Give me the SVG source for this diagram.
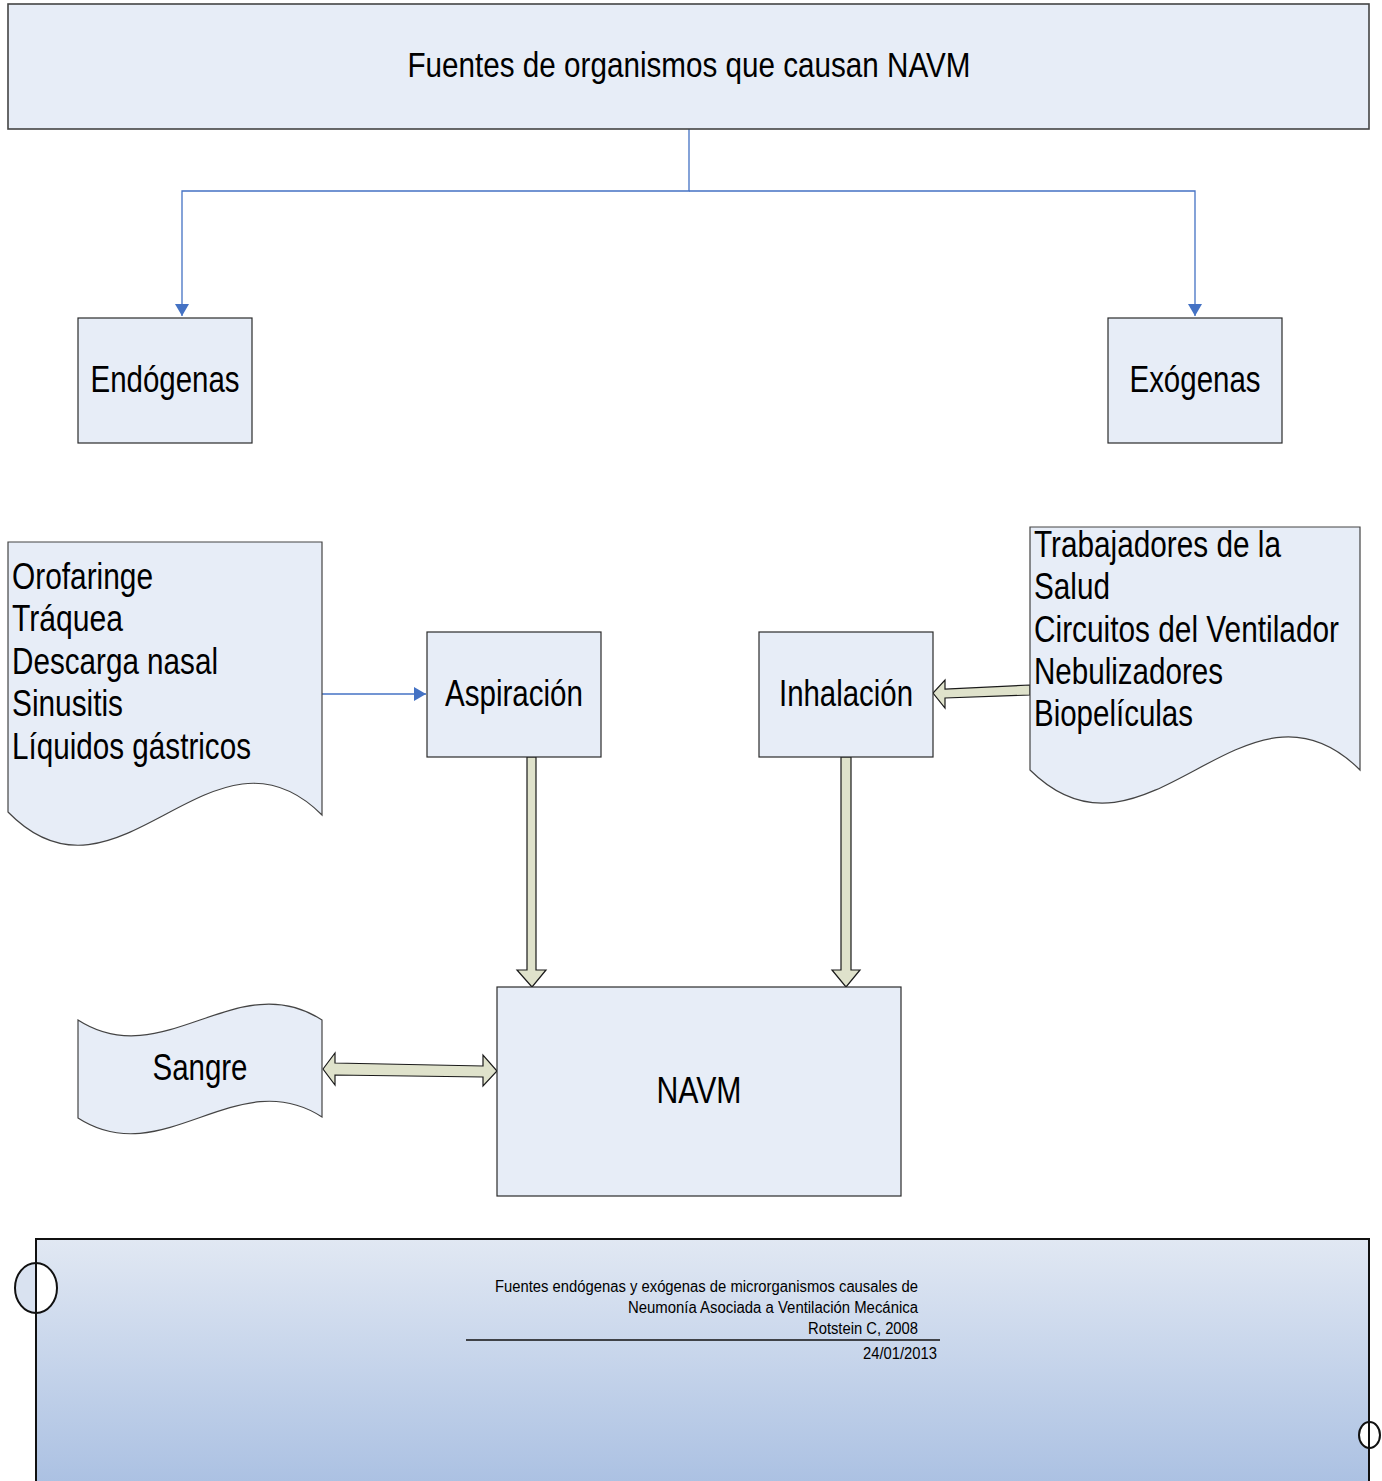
<svg xmlns="http://www.w3.org/2000/svg" width="1382" height="1481" viewBox="0 0 1382 1481">
<defs>
<style>
.box{fill:#e7edf7;stroke:#2b2b2b;stroke-width:1.2}
.t{font-family:'Liberation Sans Narrow','Liberation Sans',Arial,sans-serif;fill:#000}
.big{font-size:36px}
.sm{font-size:16px}
.blue{fill:none;stroke:#4472c4;stroke-width:1.3}
.blk{fill:#dfe2cb;stroke:#1a1a1a;stroke-width:1.2;stroke-linejoin:miter}
</style>
<marker id="ah" markerWidth="12" markerHeight="14" refX="12" refY="7" orient="auto" markerUnits="userSpaceOnUse">
<path d="M0,0 L12,7 L0,14 Z" fill="#4472c4"/>
</marker>
<linearGradient id="fg" x1="0" y1="0" x2="0" y2="1">
<stop offset="0" stop-color="#e1e8f3"/>
<stop offset="1" stop-color="#aac0e2"/>
</linearGradient>
</defs>

<g id="connectors">
<path class="blue" d="M689,129 V191 H182 V316" marker-end="url(#ah)"/>
<path class="blue" d="M689,191 H1195 V316" marker-end="url(#ah)"/>
<path class="blue" d="M322,694 H426" marker-end="url(#ah)"/>
<path class="blk" d="M527,757 H536 V970 H546 L532,987 L517,970 H527 Z"/>
<path class="blk" d="M841,757 H851 V970 H860 L846,987 L832,970 H841 Z"/>
<path class="blk" d="M1030,685 L945,689 L945,680 L933,693 L945,708 L945,698 L1030,695 Z"/>
<path class="blk" d="M323,1069 L335,1053 L335,1063 L483,1066 L483,1055 L497,1071 L483,1086 L483,1077 L335,1075 L335,1085 Z"/>
</g>

<g id="title">
<rect class="box" x="8" y="4" width="1361" height="125" style="stroke:#444;stroke-width:1.6"/>
<text class="t" x="689" y="77" font-size="35" text-anchor="middle" textLength="563" lengthAdjust="spacingAndGlyphs">Fuentes de organismos que causan NAVM</text>
</g>

<g id="endogenas">
<rect class="box" x="78" y="318" width="174" height="125"/>
<text class="t big" x="165" y="392" text-anchor="middle" textLength="149" lengthAdjust="spacingAndGlyphs">Endógenas</text>
</g>

<g id="exogenas">
<rect class="box" x="1108" y="318" width="174" height="125"/>
<text class="t big" x="1195" y="392" text-anchor="middle" textLength="131" lengthAdjust="spacingAndGlyphs">Exógenas</text>
</g>

<g id="endo-list">
<path class="box" style="stroke:#444" d="M8,542 H322 V815 C212,705 118,925 8,812 Z"/>
<text class="t big" x="12" y="589" textLength="141" lengthAdjust="spacingAndGlyphs">Orofaringe</text>
<text class="t big" x="12" y="631" textLength="111" lengthAdjust="spacingAndGlyphs">Tráquea</text>
<text class="t big" x="12" y="674" textLength="206" lengthAdjust="spacingAndGlyphs">Descarga nasal</text>
<text class="t big" x="12" y="716" textLength="111" lengthAdjust="spacingAndGlyphs">Sinusitis</text>
<text class="t big" x="12" y="759" textLength="239" lengthAdjust="spacingAndGlyphs">Líquidos gástricos</text>
</g>

<g id="exo-list">
<path class="box" style="stroke:#444" d="M1030,527 H1360 V770 C1245,655 1146,885 1030,770 Z"/>
<text class="t big" x="1034" y="557" textLength="247" lengthAdjust="spacingAndGlyphs">Trabajadores de la</text>
<text class="t big" x="1034" y="599" textLength="76" lengthAdjust="spacingAndGlyphs">Salud</text>
<text class="t big" x="1034" y="642" textLength="305" lengthAdjust="spacingAndGlyphs">Circuitos del Ventilador</text>
<text class="t big" x="1034" y="684" textLength="189" lengthAdjust="spacingAndGlyphs">Nebulizadores</text>
<text class="t big" x="1034" y="726" textLength="159" lengthAdjust="spacingAndGlyphs">Biopelículas</text>
</g>

<g id="aspiracion">
<rect class="box" x="427" y="632" width="174" height="125"/>
<text class="t big" x="514" y="706" text-anchor="middle" textLength="138" lengthAdjust="spacingAndGlyphs">Aspiración</text>
</g>

<g id="inhalacion">
<rect class="box" x="759" y="632" width="174" height="125"/>
<text class="t big" x="846" y="706" text-anchor="middle" textLength="134" lengthAdjust="spacingAndGlyphs">Inhalación</text>
</g>

<g id="navm">
<rect class="box" x="497" y="987" width="404" height="209"/>
<text class="t big" x="699" y="1103" text-anchor="middle" textLength="85" lengthAdjust="spacingAndGlyphs">NAVM</text>
</g>

<g id="sangre">
<path class="box" style="stroke:#444" d="M78,1020 C163,1075 237,965 322,1020 V1117 C237,1062 163,1173 78,1118 Z"/>
<text class="t big" x="200" y="1080" text-anchor="middle" textLength="95" lengthAdjust="spacingAndGlyphs">Sangre</text>
</g>

<g id="footer">
<rect x="36" y="1239" width="1333" height="250" fill="url(#fg)" stroke="#111" stroke-width="2"/>
<ellipse cx="36" cy="1288" rx="21" ry="25" fill="#ffffff"/>
<path d="M36,1263 A21,25 0 0 0 36,1313 Z" fill="#d9e2f0"/>
<ellipse cx="36" cy="1288" rx="21" ry="25" fill="none" stroke="#111" stroke-width="2"/>
<line x1="36" y1="1239" x2="36" y2="1481" stroke="#111" stroke-width="2"/>
<ellipse cx="1369.5" cy="1435" rx="10.5" ry="13" fill="#ffffff" stroke="#111" stroke-width="2"/>
<line x1="1369" y1="1239" x2="1369" y2="1481" stroke="#111" stroke-width="2"/>
<text class="t sm" x="918" y="1292" text-anchor="end" textLength="423" lengthAdjust="spacingAndGlyphs">Fuentes endógenas y exógenas de microrganismos causales de</text>
<text class="t sm" x="918" y="1313" text-anchor="end" textLength="290" lengthAdjust="spacingAndGlyphs">Neumonía Asociada a Ventilación Mecánica</text>
<text class="t sm" x="918" y="1334" text-anchor="end" textLength="110" lengthAdjust="spacingAndGlyphs">Rotstein C, 2008</text>
<line x1="466" y1="1340" x2="940" y2="1340" stroke="#111" stroke-width="1.6"/>
<text class="t sm" x="937" y="1359" text-anchor="end" textLength="74" lengthAdjust="spacingAndGlyphs">24/01/2013</text>
</g>
</svg>
